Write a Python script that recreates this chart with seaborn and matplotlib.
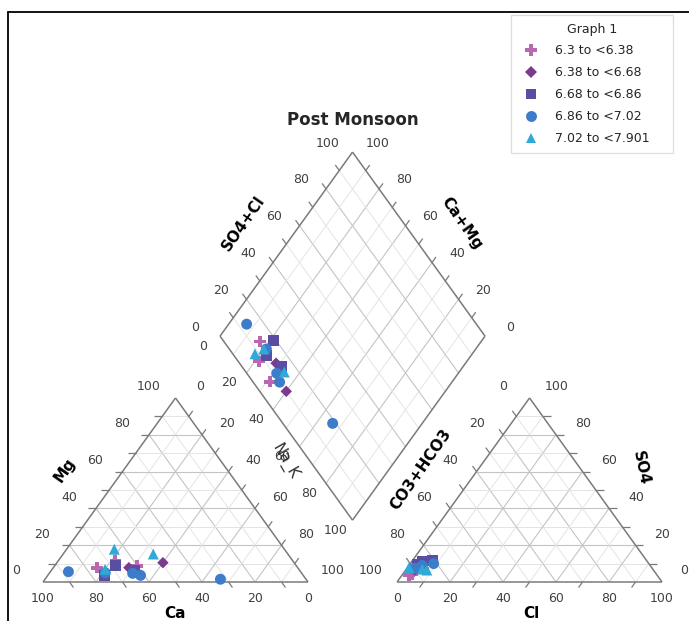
import numpy as np
import pandas as pd
import matplotlib
matplotlib.use("Agg")
import matplotlib.pyplot as plt
import seaborn as sns
from matplotlib.lines import Line2D

# ---- water chemistry (% of meq/L) grouped by pH class ----
groups = ["6.3 to <6.38", "6.38 to <6.68", "6.68 to <6.86", "6.86 to <7.02", "7.02 to <7.901"]
sample_group = [0, 0, 0, 1, 1, 2, 2, 2, 3, 3, 3, 3, 3, 4, 4, 4]
ca   = [75.7, 67.0, 60.1, 63.7, 49.5, 75.2, 68.3, 62.6, 87.6, 63.8, 61.4, 32.3, 74.0, 64.2, 73.1, 50.8]
mg   = [7.8, 11.4, 8.7, 7.8, 10.5, 3.3, 8.9, 6.0, 5.6, 4.7, 3.6, 1.5, 5.0, 17.8, 6.9, 15.2]
nak  = [16.5, 21.6, 31.2, 28.5, 40.0, 21.5, 22.8, 31.4, 6.8, 31.5, 35.0, 66.2, 21.0, 18.0, 20.0, 34.0]
hco3 = [86.4, 92.1, 93.5, 86.2, 90.0, 81.0, 87.5, 85.0, 86.7, 88.7, 90.0, 81.2, 86.0, 91.6, 87.0, 85.5]
cl   = [5.6, 3.4, 2.7, 6.3, 3.5, 7.5, 3.0, 4.0, 5.3, 3.9, 2.6, 8.8, 5.0, 0.6, 6.0, 8.0]
so4  = [8.0, 4.5, 3.8, 7.5, 6.5, 11.5, 9.5, 11.0, 8.0, 7.4, 7.4, 10.0, 9.0, 7.8, 7.0, 6.5]

colors  = ["#b867b0", "#7b3b8c", "#5a4ea2", "#3d7cc9", "#30a9d6"]
markers = ["P", "D", "s", "o", "^"]
msizes  = [70, 34, 62, 62, 62]

# ---- Piper geometry ----
H = np.sqrt(3) / 2
GAP = 0.336
OX = 1 + GAP                       # x offset of anion triangle
BOT = np.array([1 + GAP / 2, GAP * H])   # bottom corner of diamond
U = np.array([-0.5, H])
V = np.array([0.5, H])
PXX, PXY = 265.0, 212.5           # drawing units -> pixels


def cation_xy(mgf, nkf):
    return nkf + mgf / 2, mgf * H


def anion_xy(clf, sof):
    return OX + clf + sof / 2, sof * H


def diamond_xy(nkf, sclf):
    p = BOT + (1 - nkf) * U + sclf * V
    return p[0], p[1]


def off(pt, dx, dy):
    return (pt[0] + dx / PXX, pt[1] - dy / PXY)


def px(x, y):
    return ((x - 43) / PXX, (582 - y) / PXY)


rows = []
for i, gi in enumerate(sample_group):
    m, n = mg[i] / 100, nak[i] / 100
    c, s = cl[i] / 100, so4[i] / 100
    for panel, (x, y) in (("cation", cation_xy(m, n)),
                          ("anion", anion_xy(c, s)),
                          ("diamond", diamond_xy(n, c + s))):
        rows.append({"x": x, "y": y, "pH": groups[gi], "panel": panel})
df = pd.DataFrame(rows)

sns.set_style("white")
plt.rcParams["font.family"] = ["DejaVu Sans"]

fig = plt.figure(figsize=(6.89, 6.21), dpi=100)
ax = fig.add_axes([0, 0, 1, 1])
ax.set_xlim(-43 / PXX, 646 / PXX)
ax.set_ylim(-39 / PXY, 582 / PXY)
ax.axis("off")

MINOR = dict(color="#e4e4e4", lw=0.7, zorder=1)
MAJOR = dict(color="#c4c4c4", lw=0.8, zorder=1)
EDGE = dict(color="#7a7a7a", lw=1.1, zorder=2)
TICK = dict(color="#7a7a7a", lw=0.9, zorder=2)
T = 0.03


def seg(p0, p1, **kw):
    ax.plot([p0[0], p1[0]], [p0[1], p1[1]], solid_capstyle="butt", **kw)


levels = np.round(np.arange(0.1, 1.0, 0.1), 2)

# cation triangle
for v in levels:
    even = round(v * 10) % 2 == 0
    st = MAJOR if even else MINOR
    a, b = (v / 2, v * H), (1 - v / 2, v * H)             # Mg
    seg(a, b, **st); seg(a, (a[0] - T, a[1]), **TICK)
    a, b = (v, 0), (v + (1 - v) / 2, (1 - v) * H)         # Na+K
    seg(a, b, **st); seg(b, (b[0] + T * 0.5, b[1] + T * H), **TICK)
    a, b = (1 - v, 0), ((1 - v) / 2, (1 - v) * H)         # Ca
    seg(a, b, **st)
    if not even:
        seg(a, (a[0] + T * 0.5, a[1] - T * H), **TICK)
for p0, p1 in (((0, 0), (1, 0)), ((1, 0), (0.5, H)), ((0.5, H), (0, 0))):
    seg(p0, p1, **EDGE)

# anion triangle
for v in levels:
    even = round(v * 10) % 2 == 0
    st = MAJOR if even else MINOR
    a, b = (OX + v / 2, v * H), (OX + 1 - v / 2, v * H)   # SO4
    seg(a, b, **st); seg(b, (b[0] + T, b[1]), **TICK)
    a, b = (OX + 1 - v, 0), (OX + (1 - v) / 2, (1 - v) * H)  # HCO3
    seg(a, b, **st); seg(b, (b[0] - T * 0.5, b[1] + T * H), **TICK)
    a, b = (OX + v, 0), (OX + v + (1 - v) / 2, (1 - v) * H)  # Cl
    seg(a, b, **st)
    if not even:
        seg(a, (a[0] - T * 0.5, a[1] - T * H), **TICK)
for p0, p1 in (((OX, 0), (OX + 1, 0)), ((OX + 1, 0), (OX + 0.5, H)), ((OX + 0.5, H), (OX, 0))):
    seg(p0, p1, **EDGE)

# diamond
for v in levels:
    st = MAJOR if round(v * 10) % 2 == 0 else MINOR
    a = BOT + v * V; b = a + U
    seg(a, b, **st); seg(b, b + T * U, **TICK)
    a = BOT + v * U; b = a + V
    seg(a, b, **st); seg(b, b + T * V, **TICK)
corners = [BOT, BOT + U, BOT + U + V, BOT + V, BOT]
for p0, p1 in zip(corners[:-1], corners[1:]):
    seg(p0, p1, **EDGE)

# ---- data points ----
sns.scatterplot(data=df, x="x", y="y", hue="pH", style="pH", size="pH",
                hue_order=groups, style_order=groups, size_order=groups,
                palette=dict(zip(groups, colors)),
                markers=dict(zip(groups, markers)),
                sizes=dict(zip(groups, msizes)),
                linewidth=0, ax=ax, zorder=5, legend="full")

# ---- tick labels ----
TXT = dict(fontsize=9, color="#404040", ha="center", va="center")
labels = [0, 20, 40, 60, 80, 100]
for lab in labels:
    v = lab / 100
    ax.text(*off((v / 2, v * H), -27, -11), str(lab), **TXT)                      # Mg
    ax.text(*off((v + (1 - v) / 2, (1 - v) * H), 25, -11), str(lab), **TXT)        # Na_K
    ax.text(*off((1 - v, 0), 0, 16), str(lab), **TXT)                             # Ca
    ax.text(*off((OX + v, 0), 0, 16), str(lab), **TXT)                            # Cl
    ax.text(*off((OX + (1 - v) / 2, (1 - v) * H), -26, -11), str(lab), **TXT)     # CO3+HCO3
    sx = 27 if lab > 0 else 22                                                    # keep "0" inside the canvas
    ax.text(*off((OX + 1 - v / 2, v * H), sx, -11), str(lab), **TXT)              # SO4
    ax.text(*off(BOT + U + v * V, -25, -9), str(lab), **TXT)                      # SO4+Cl
    ax.text(*off(BOT + V + v * U, 25, -9), str(lab), **TXT)                       # Ca+Mg
    ax.text(*off(BOT + (1 - v) * U, -17, 10), str(lab), **TXT)                    # Na_K (diamond)

# ---- axis titles ----
BT = dict(fontsize=11, fontweight="bold", color="black", ha="center", va="center")
ax.text(*px(353, 120), "Post Monsoon", fontsize=12, fontweight="bold", ha="center", va="center")
ax.text(*px(65, 470), "Mg", rotation=55, **BT)
ax.text(*px(175, 613), "Ca", **BT)
ax.text(*px(285, 462), "Na_K", rotation=-60, fontsize=11, color="#303030", ha="center", va="center")
ax.text(*px(531, 613), "Cl", **BT)
ax.text(*px(421, 470), "CO3+HCO3", rotation=55, **BT)
ax.text(*px(641, 468), "SO4", rotation=-78, **BT)
ax.text(*px(243, 223), "SO4+Cl", rotation=55, **BT)
ax.text(*px(462, 223), "Ca+Mg", rotation=-55, **BT)

# ---- legend ----
sns.move_legend(ax, "upper left",
                bbox_to_anchor=(511 / 689, 1 - 150 / 621, 162 / 689, 135 / 621),
                bbox_transform=fig.transFigure, mode="expand", title="Graph 1",
                frameon=True, fontsize=9, title_fontsize=9, borderpad=0.6,
                labelspacing=0.72, handletextpad=0.9, borderaxespad=0, fancybox=False)
leg = ax.get_legend()
leg.get_frame().set_edgecolor("#d5d5d5")
leg.get_frame().set_linewidth(0.9)

# ---- outer frame ----
fig.add_artist(Line2D([8 / 689, 1], [1 - 12 / 621, 1 - 12 / 621], color="black", lw=1.3,
                      transform=fig.transFigure))
fig.add_artist(Line2D([8 / 689, 8 / 689], [0, 1 - 12 / 621], color="black", lw=1.3,
                      transform=fig.transFigure))

fig.savefig("out.png", dpi=100, facecolor="white")
